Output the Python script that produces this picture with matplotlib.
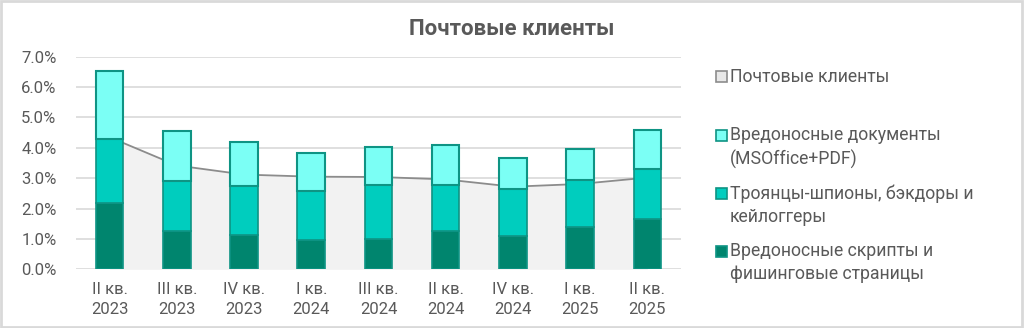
import numpy as np
import matplotlib.pyplot as plt
from matplotlib.patches import Rectangle

plt.rcParams['font.family'] = ['Roboto', 'DejaVu Sans']

# ---------------------------- data ----------------------------
quarters = ['II кв.\n2023', 'III кв.\n2023', 'IV кв.\n2023', 'I кв.\n2024',
            'III кв.\n2024', 'II кв.\n2024', 'IV кв.\n2024', 'I кв.\n2025',
            'II кв.\n2025']
scripts = [0.0217, 0.0126, 0.0113, 0.0096, 0.0101, 0.0125, 0.0111, 0.0139, 0.0166]
trojans = [0.0211, 0.0166, 0.0161, 0.0163, 0.0176, 0.0154, 0.0154, 0.0155, 0.0164]
documents = [0.0226, 0.0162, 0.0144, 0.0123, 0.0126, 0.0131, 0.0102, 0.0103, 0.0129]
mail_clients = [0.0435, 0.0342, 0.0312, 0.0305, 0.0304, 0.0296, 0.0272, 0.0281, 0.0302]

series_names = ['Почтовые клиенты',
                'Вредоносные документы\n(MSOffice+PDF)',
                'Троянцы-шпионы, бэкдоры и\nкейлоггеры',
                'Вредоносные скрипты и\nфишинговые страницы']

c_dark = '#00856e'
c_mid = '#00cdbe'
c_light = '#7bfff5'
c_edge = '#0e9484'
c_text = '#595959'
c_grid = '#d9d9d9'

# ---------------------------- plot ----------------------------
fig = plt.figure(figsize=(10.24, 3.28), dpi=100)
ax = fig.add_axes([0.0742, 0.179, 0.5908, 0.648])

x = np.arange(len(quarters))
ax.fill_between(x, 0, mail_clients, color='#f2f2f2', zorder=1, lw=0)
ax.plot(x, mail_clients, color='#8c8c8c', lw=1.3, zorder=2)

w = 0.41
bottom2 = np.array(scripts) + np.array(trojans)
ax.bar(x, scripts, w, color=c_dark, edgecolor=c_edge, lw=1.2, zorder=3)
ax.bar(x, trojans, w, bottom=scripts, color=c_mid, edgecolor=c_edge, lw=1.2, zorder=3)
ax.bar(x, documents, w, bottom=bottom2, color=c_light, edgecolor=c_edge, lw=1.5, zorder=3)

ax.set_xlim(-0.5, len(quarters) - 0.5)
ax.set_ylim(0, 0.07)
ax.set_yticks(np.arange(0, 0.0701, 0.01))
ax.set_yticklabels([f'{v * 100:.1f}%' for v in np.arange(0, 0.0701, 0.01)])
ax.set_xticks(x)
ax.set_xticklabels(quarters, linespacing=1.4)
ax.tick_params(length=0, labelsize=12, labelcolor=c_text)
ax.tick_params(axis='x', pad=9)
ax.tick_params(axis='y', pad=14)
ax.grid(axis='y', color=c_grid, lw=1.2, zorder=0)
ax.set_axisbelow(True)
for s in ax.spines.values():
    s.set_visible(False)

fig.text(0.4995, 0.913, 'Почтовые клиенты', ha='center', va='center',
         fontsize=16, fontweight='bold', color=c_text)

# legend, each marker aligned with the first line of its label
leg_faces = ['#e8e8e8', c_light, c_mid, c_dark]
leg_edges = ['#8c8c8c', c_edge, c_edge, c_edge]
leg_y = [77, 135, 193, 251]
for name, fc, ec, yy in zip(series_names, leg_faces, leg_edges, leg_y):
    fig.patches.append(Rectangle((716 / 1024, 1 - (yy + 5.5) / 328), 11 / 1024, 11 / 328,
                                 transform=fig.transFigure, facecolor=fc, edgecolor=ec,
                                 lw=1.2))
    fig.text(730 / 1024, 1 - (yy - 9) / 328, name, ha='left', va='top',
             fontsize=12.7, color=c_text, linespacing=1.38)

# thin frame around the whole chart
fig.patches.append(Rectangle((0.001, 0.003), 0.997, 0.994, transform=fig.transFigure,
                             fill=False, edgecolor=c_grid, lw=2))

fig.savefig('out.png', dpi=100)
